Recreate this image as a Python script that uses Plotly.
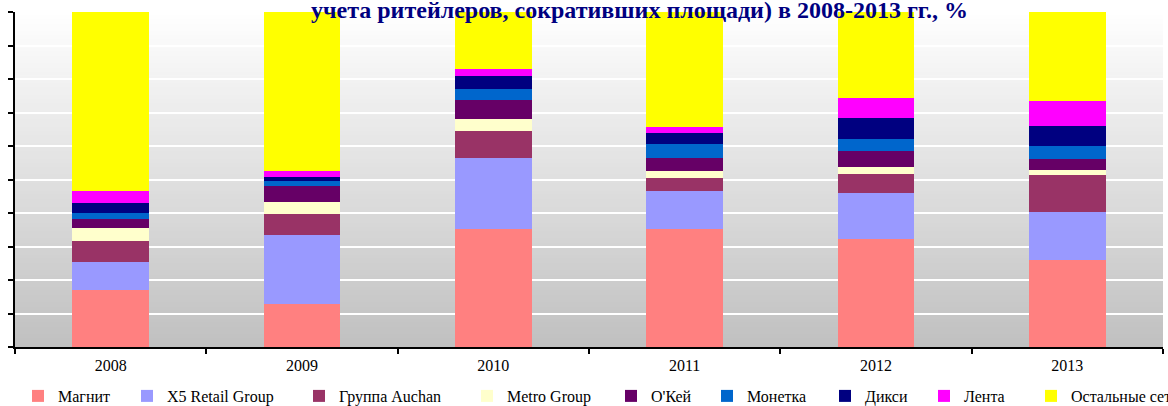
import plotly.graph_objects as go

years = ["2008", "2009", "2010", "2011", "2012", "2013"]
series_names = ["Магнит", "X5 Retail Group", "Группа Auchan", "Metro Group", "O'Кей",
                "Монетка", "Дикси", "Лента", "Остальные сети"]
magnit = [17.0, 12.9, 35.2, 35.2, 32.2, 26.1]
x5 = [8.4, 20.5, 21.2, 11.4, 13.8, 14.2]
auchan = [6.2, 6.3, 8.1, 3.8, 5.6, 11.0]
metro = [3.9, 3.6, 3.6, 2.1, 2.1, 1.5]
okey = [2.7, 4.8, 5.6, 3.9, 4.8, 3.3]
monetka = [1.8, 1.5, 3.3, 4.2, 3.6, 3.9]
dixi = [3.0, 1.1, 3.9, 3.3, 6.3, 6.0]
lenta = [3.6, 1.8, 2.1, 1.8, 5.9, 7.4]
others = [53.4, 47.5, 17.0, 34.3, 25.7, 26.6]
series_values = [magnit, x5, auchan, metro, okey, monetka, dixi, lenta, others]
colors = ["#FF8080", "#9999FF", "#993366", "#FFFFCC", "#660066",
          "#0066CC", "#000080", "#FF00FF", "#FFFF00"]
title_text = "учета ритейлеров, сокративших площади) в 2008-2013 гг., %"

W, H = 1168, 406
# target plot area in screen pixels
PL, PR, PT, PB = 15, 1163, 12, 347
PW = PR - PL
PH = PB - PT
ML, MT = PL, PT
MR = W - PR
MB = H - PB

fig = go.Figure()
legend_left_px = [18, 127, 299, 467, 611, 707, 825, 924, 1031]
for i, (name, vals, col) in enumerate(zip(series_names, series_values, colors)):
    lg = "legend" if i == 0 else f"legend{i+1}"
    fig.add_trace(go.Bar(x=years, y=vals, name=name, marker=dict(color=col, line=dict(width=0)),
                         legend=lg))

# gradient background strips
N = 84
shapes = []
for k in range(N):
    t = (k + 0.5) / N  # 0 top -> 1 bottom
    v = int(round(255 - (255 - 192) * t))
    shapes.append(dict(type="rect", xref="paper", yref="paper",
                       x0=0, x1=1, y0=1 - (k + 1) / N, y1=1 - k / N + 0.002,
                       fillcolor=f"rgb({v},{v},{v})", line=dict(width=0), layer="below"))

legend_font = dict(family="Liberation Serif", size=16, color="black")
leg_y = -(396 - PB) / PH
layout_legends = {}
for i, lx in enumerate(legend_left_px):
    key = "legend" if i == 0 else f"legend{i+1}"
    layout_legends[key] = dict(orientation="h", x=(lx - PL) / PW, y=leg_y,
                               xanchor="left", yanchor="middle", font=legend_font,
                               bgcolor="rgba(0,0,0,0)", borderwidth=0, itemwidth=30)

fig.update_layout(
    width=W, height=H,
    margin=dict(l=ML, r=MR, t=MT, b=MB, pad=0, autoexpand=False),
    paper_bgcolor="white", plot_bgcolor="rgba(0,0,0,0)",
    barmode="stack", bargap=0.6,
    shapes=shapes,
    showlegend=True,
    **layout_legends,
    xaxis=dict(type="category", showline=True, linecolor="black", linewidth=2,
               ticks="outside", tickson="boundaries", ticklen=5, tickwidth=2, tickcolor="black",
               showgrid=False, tickfont=dict(family="Liberation Serif", size=16, color="black"),
               ticklabelstandoff=3),
    yaxis=dict(range=[0, 100], dtick=10, showline=True, linecolor="black", linewidth=2,
               ticks="outside", ticklen=5, tickwidth=2, tickcolor="black",
               showticklabels=False, showgrid=True, gridcolor="white", gridwidth=1.5,
               zeroline=False),
    annotations=[dict(text=f"<b>{title_text}</b>", xref="paper", yref="paper",
                      x=(639 - PL) / PW, y=(PB - 10) / PH, xanchor="center", yanchor="middle",
                      showarrow=False,
                      font=dict(family="Liberation Serif", size=24, color="#000080"))],
)

fig.write_html("out.html", config={"displayModeBar": False},
               post_script="document.body.style.margin='0';")
